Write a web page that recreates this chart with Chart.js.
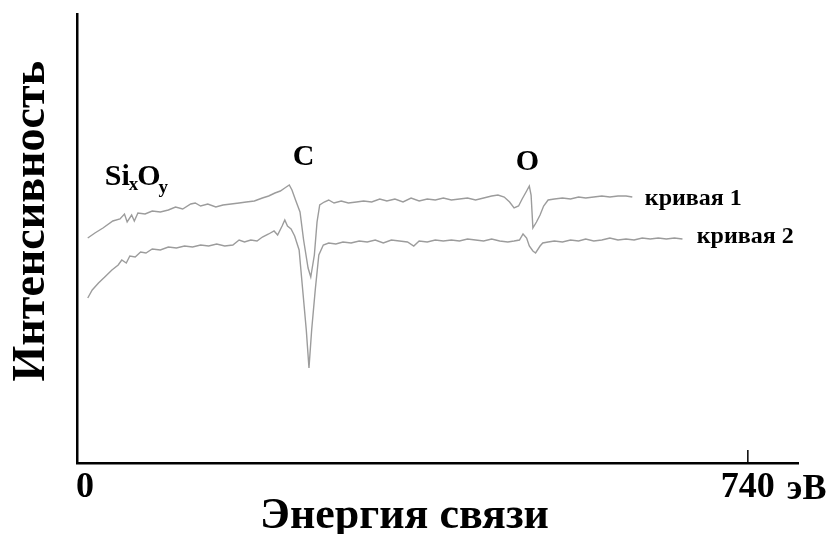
<!DOCTYPE html>
<html>
<head>
<meta charset="utf-8">
<script src="https://cdn.jsdelivr.net/npm/chart.js@4.4.0/dist/chart.umd.min.js"></script>
<style>
  html, body { margin: 0; padding: 0; background: white; }
  #wrap { width: 831px; height: 534px; }
</style>
</head>
<body>
<div id="wrap"><canvas id="myChart" width="831" height="534"></canvas></div>
<script>
// energy (eV) and intensity (arb. units)
var curve1E = [3,11,20,31,39,44,47,52,55,59,67,75,84,93,101,109,118,123,129,137,146,154,163,172,180,189,198,205,212,218,223,228,231,235,240,244,249,252,256,259,262,267,272,278,286,294,303,311,320,329,337,346,355,364,373,382,391,400,409,418,427,436,445,454,461,468,474,479,484,488,493,496,498,500,504,508,512,517,524,533,542,551,559,568,577,586,595,604,611]
var curve1I = [225,230,235,242,244,249,241,248,242,250,249,252,251,253,256,254,259,260,257,259,256,258,259,260,261,262,265,267,270,272,275,278,273,263,251,223,195,186,208,241,258,261,263,260,262,260,261,262,261,264,262,264,261,265,262,264,263,265,263,264,265,263,265,267,268,266,261,255,257,264,272,277,268,235,241,248,257,263,264,265,264,266,265,266,267,266,267,267,266]

var curve2E = [3,8,15,22,30,37,41,46,50,56,62,68,75,84,93,102,111,120,129,138,147,156,165,172,178,185,192,198,205,211,215,220,223,226,230,234,239,243,247,250,253,257,261,266,272,280,288,297,306,315,324,333,342,351,360,367,373,382,391,400,409,418,427,436,445,454,463,472,479,485,489,493,496,500,503,508,511,517,524,533,542,551,559,568,577,586,595,604,613,622,631,640,649,658,667]
var curve2I = [165,173,180,186,193,198,203,200,207,206,211,210,214,213,216,215,217,216,218,217,219,217,218,223,221,223,222,226,229,232,228,237,243,237,234,227,213,173,133,95,133,173,208,218,220,219,221,220,222,221,223,220,223,222,221,217,222,221,223,222,223,222,224,223,222,224,222,221,222,223,229,225,217,212,210,217,220,221,222,221,223,222,224,222,223,225,223,224,223,225,224,225,224,225,224]

var xTicks = [0, 740]
var xUnit = 'эВ'
var curveNames = ['кривая 1', 'кривая 2']
var peakNames = ['C', 'O']

function pontos(e, v) {
    return e.map(function (x, i) { return { x: x, y: v[i] } })
}

var serif = '"Liberation Serif", "DejaVu Serif", serif'

// texts on the plot: peak names, curve names, SixOy, tick mark and unit
var rotulos = {
    id: 'rotulos',
    afterDraw: function (chart) {
        var ctx = chart.ctx
        var xs = chart.scales.x
        var ys = chart.scales.y
        ctx.save()
        ctx.fillStyle = 'black'
        ctx.textBaseline = 'alphabetic'

        // tick mark at 740 pointing up
        var tx = xs.getPixelForValue(740)
        ctx.strokeStyle = 'black'
        ctx.lineWidth = 1.5
        ctx.beginPath()
        ctx.moveTo(tx, ys.getPixelForValue(0))
        ctx.lineTo(tx, ys.getPixelForValue(0) - 13)
        ctx.stroke()

        // unit after 740
        ctx.font = 'bold 36px ' + serif
        ctx.textAlign = 'left'
        ctx.fillText(xUnit, tx + 39, 499)

        // C and O
        ctx.font = 'bold 30px ' + serif
        ctx.textAlign = 'center'
        var peakE = [244, 494]
        var peakI = [298, 293]
        for (var i = 0; i < peakNames.length; i++) {
            ctx.fillText(peakNames[i], xs.getPixelForValue(peakE[i]), ys.getPixelForValue(peakI[i]))
        }

        // curve names
        ctx.font = 'bold 24px ' + serif
        ctx.textAlign = 'left'
        var nomeE = [625, 683]
        var nomeI = [258, 220]
        for (var j = 0; j < curveNames.length; j++) {
            ctx.fillText(curveNames[j], xs.getPixelForValue(nomeE[j]), ys.getPixelForValue(nomeI[j]))
        }

        // SixOy with subscripts
        var sx = xs.getPixelForValue(22)
        var sy = ys.getPixelForValue(278)
        ctx.font = 'bold 30px ' + serif
        ctx.fillText('Si', sx, sy)
        sx += ctx.measureText('Si').width
        ctx.font = 'bold 19px ' + serif
        ctx.fillText('x', sx - 1, sy + 5)
        sx += ctx.measureText('x').width - 2
        ctx.font = 'bold 30px ' + serif
        ctx.fillText('O', sx, sy)
        sx += ctx.measureText('O').width - 2
        ctx.font = 'bold 19px ' + serif
        ctx.fillText('y', sx, sy + 8)
        ctx.restore()
    }
}

var myChart = new Chart(document.getElementById('myChart').getContext('2d'), {
    type: 'line',
    data: {
        datasets: [{
            label: curveNames[0],
            data: pontos(curve1E, curve1I),
            borderColor: '#9c9c9c',
            borderWidth: 1.4,
            pointRadius: 0,
            tension: 0
        }, {
            label: curveNames[1],
            data: pontos(curve2E, curve2I),
            borderColor: '#9c9c9c',
            borderWidth: 1.4,
            pointRadius: 0,
            tension: 0
        }]
    },
    options: {
        responsive: false,
        animation: false,
        events: [],
        layout: { autoPadding: false, padding: { left: 9, right: 33, top: 14, bottom: 0 } },
        plugins: {
            legend: { display: false },
            tooltip: { enabled: false }
        },
        scales: {
            x: {
                type: 'linear',
                min: -9,
                max: 796,
                afterBuildTicks: function (scale) {
                    scale.ticks = xTicks.map(function (v) { return { value: v } })
                },
                afterFit: function (scale) {
                    scale.height = 71
                },
                grid: { display: false, drawTicks: false },
                border: { display: true, color: 'black', width: 2.5 },
                ticks: {
                    color: 'black',
                    padding: 10,
                    maxRotation: 0,
                    autoSkip: false,
                    font: { family: serif, size: 36, weight: 'bold', lineHeight: 0.8 }
                },
                title: {
                    display: true,
                    text: 'Энергия связи      ',
                    color: 'black',
                    padding: { top: 0, bottom: 7 },
                    font: { family: serif, size: 44, weight: 'bold', lineHeight: 0.45 }
                }
            },
            y: {
                min: 0,
                max: 449,
                afterFit: function (scale) {
                    scale.width = 68
                },
                grid: { display: false, drawTicks: false },
                border: { display: true, color: 'black', width: 2.5 },
                ticks: { display: false },
                title: {
                    display: true,
                    text: '   Интенсивность',
                    color: 'black',
                    padding: { top: 0, bottom: 22 },
                    font: { family: serif, size: 46, weight: 'bold', lineHeight: 1 }
                }
            }
        }
    },
    plugins: [rotulos]
})
</script>
</body>
</html>
